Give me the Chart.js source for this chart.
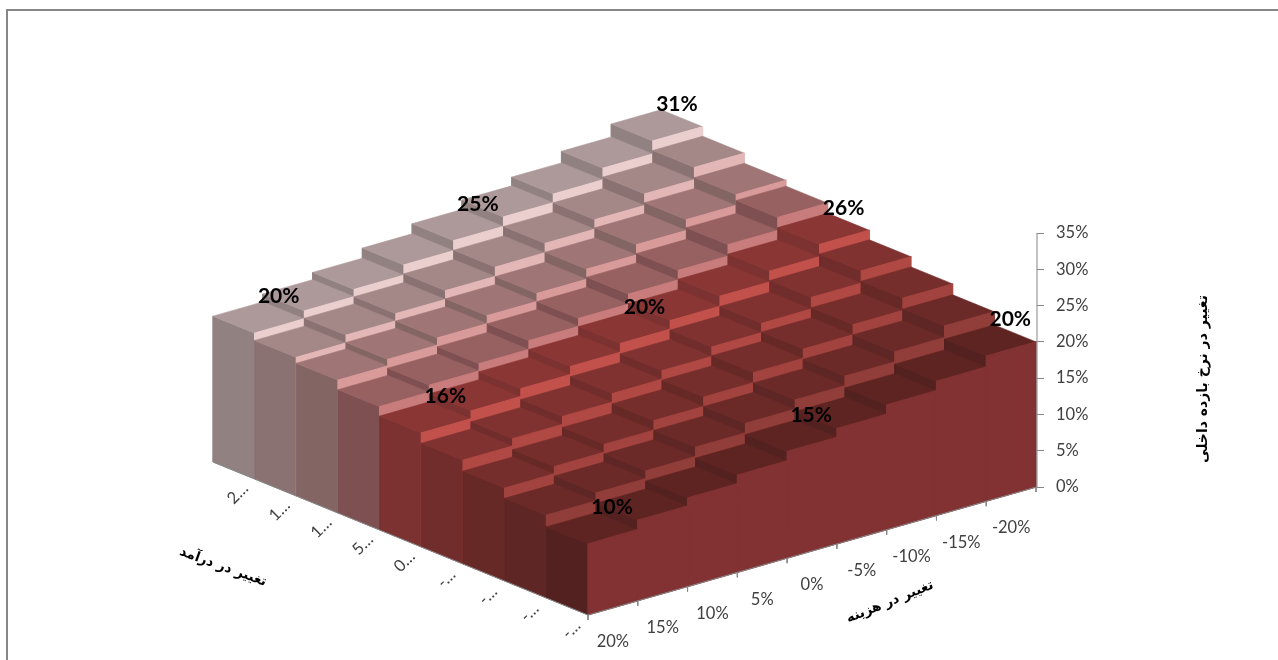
<!DOCTYPE html>
<html><head><meta charset="utf-8">
<style>html,body{margin:0;padding:0;background:#fff}#w{position:absolute;left:0;top:0;width:1278px;height:660px}</style>
<script src="https://cdn.jsdelivr.net/npm/chart.js@4"></script>
</head><body><div id="w"><canvas id="c" width="1278" height="660"></canvas></div>
<script>
// Data: rows run from revenue -20% (front) to +20% (back), columns from cost +20% (front) to -20% (right)
const revenueLabels = ['-…','-…','-…','-…','0…','5…','1…','1…','2…'];
const costLabels = ['20%','15%','10%','5%','0%','-5%','-10%','-15%','-20%'];
const yTicks = [0,5,10,15,20,25,30,35];
const rowM20 = [9.8,11.1,12.2,13.4,14.7,15.9,17.2,18.5,20.0];
const rowM15 = [11.4,12.5,13.6,14.9,16.2,17.5,18.8,20.2,21.8];
const rowM10 = [12.8,13.8,14.9,16.2,17.5,18.9,20.2,21.6,23.3];
const rowM5  = [14.3,15.3,16.4,17.6,18.8,20.1,21.4,23.0,24.7];
const row0   = [15.7,16.8,17.9,19.0,20.2,21.4,22.8,24.3,26.0];
const rowP5  = [17.0,18.0,19.0,20.2,21.3,22.7,24.0,25.6,27.4];
const rowP10 = [18.3,19.2,20.2,21.3,22.4,23.8,25.2,26.7,28.2];
const rowP15 = [19.1,20.2,21.2,22.4,23.7,25.0,26.3,27.9,29.6];
const rowP20 = [20.1,21.2,22.2,23.6,25.0,26.3,27.5,29.1,30.9];
const rows = [rowM20,rowM15,rowM10,rowM5,row0,rowP5,rowP10,rowP15,rowP20];
// labelled cells: [row index, column index, text]
const valueLabels = [[8,0,'20%'],[8,4,'25%'],[8,8,'31%'],[4,0,'16%'],[4,4,'20%'],[4,8,'26%'],[0,0,'10%'],[0,4,'15%'],[0,8,'20%']];

// Per-series colours (front to back)
const topCol   = ['#5E2422','#6B2A28','#762E2C','#7F3230','#8A3634','#986161','#9F7575','#A48888','#AD9999'];
const sideCol  = ['#532220','#5E2624','#662926','#712D2B','#7B3230','#7F5052','#836664','#8A7272','#918181'];
const frontCol = ['#823232','#913D39','#A2433F','#B04843','#C2514C','#C97C7C','#D99A9A','#E4B7B7','#EBCFCF'];

// Oblique view of the 3D box, expressed in scale units (x: pixels along the hidden axis, y: percent)
const V = {ox:588, cx:49.78, rx:-41.67, pxPerPct:254/35, floorRise:{c:14.22, r:17, o:128}};
const yMin = -173/V.pxPerPct, yMax = 487/V.pxPerPct;
function project(c,r,v){
  return {x:V.ox + V.cx*c + V.rx*r,
          y:v + (V.floorRise.c*c + V.floorRise.r*r - V.floorRise.o)/V.pxPerPct};
}
function poly(pts,color,w){
  return {type:'scatter',showLine:true,data:[...pts,pts[0]],fill:'shape',backgroundColor:color,borderColor:color,
          borderWidth:w===undefined?0.6:w,pointRadius:0,tension:0,clip:false};
}
function seg(a,b){
  return {type:'scatter',showLine:true,data:[a,b],fill:false,borderColor:'#868686',borderWidth:1,pointRadius:0,clip:false};
}
const boxes=[];
for(let ri=rows.length-1;ri>=0;ri--){
  for(let ci=rows[ri].length-1;ci>=0;ci--){
    const v=rows[ri][ci];
    boxes.push(poly([project(ci,ri,0),project(ci,ri,v),project(ci,ri+1,v),project(ci,ri+1,0)],sideCol[ri]));
    boxes.push(poly([project(ci,ri,v),project(ci+1,ri,v),project(ci+1,ri+1,v),project(ci,ri+1,v)],topCol[ri]));
  }
  for(let ci=rows[ri].length-1;ci>=0;ci--){
    const v=rows[ri][ci];
    boxes.push(poly([project(ci,ri,0),project(ci,ri,v),project(ci+1,ri,v),project(ci+1,ri,0)],frontCol[ri],1.2));
  }
}
const TICK = 5/V.pxPerPct;
const axisLines=[seg(project(0,9,0),project(0,0,0)),seg(project(0,0,0),project(9,0,0)),seg({x:1037,y:0},{x:1037,y:35})];
for(let c=0;c<=9;c++){const p=project(c,0,0);axisLines.push(seg(p,{x:p.x,y:p.y-TICK}));}
// Chart.js paints the last dataset first, so reverse for back-to-front painting
const datasets=[...axisLines,...boxes.reverse()];

const textPlugin={id:'text3d',
  beforeDraw(ch){
    const g=ch.ctx;g.save();g.fillStyle='#868686';
    g.fillRect(6,9,1272,2);g.fillRect(6,9,2,651);g.restore();
  },
  afterDraw(ch){
    const g=ch.ctx,X=ch.scales.x,Y=ch.scales.y;
    const px=p=>({x:X.getPixelForValue(p.x),y:Y.getPixelForValue(p.y)});
    const put=(t,x,y,rot,font,col)=>{g.save();g.translate(x,y);g.rotate(rot*Math.PI/180);g.font=font;g.fillStyle=col;
      g.textAlign='center';g.textBaseline='middle';g.fillText(t,0,0);g.restore();};
    const tick='16.5px Lato',grey='#404040';
    revenueLabels.forEach((t,ri)=>{const p=px(project(0,ri+.5,0));put(t,p.x+4,p.y+23,-45,tick,grey);});
    costLabels.forEach((t,ci)=>{const p=px(project(ci+.5,0,0));put(t,p.x,p.y+34,0,tick,grey);});
    valueLabels.forEach(([ri,ci,t])=>{const p=px(project(ci+.5,ri+.5,rows[ri][ci]));put(t,p.x+20,p.y-21,0,'bold 21px Lato','#000');});
    const ar='bold 13.5px "DejaVu Sans"';
    put('تغییر در درآمد',223,567,20,ar,'#000');
    put('تغییر در هزینه',890,602,-22,ar,'#000');
    put('تغییر در نرخ بازده داخلی',1203,379,-90,'bold 14px "DejaVu Sans"','#000');
  }
};
new Chart(document.getElementById('c'),{
  type:'scatter',
  data:{datasets},
  plugins:[textPlugin],
  options:{
    responsive:false,animation:false,
    layout:{padding:0},
    plugins:{legend:{display:false},tooltip:{enabled:false},title:{display:false}},
    scales:{
      x:{type:'linear',display:false,min:0,max:1037},
      y:{type:'linear',position:'right',min:yMin,max:yMax,
         afterFit(s){s.width=241;s.paddingTop=0;s.paddingBottom=0;},
         afterBuildTicks(s){s.ticks=yTicks.map(v=>({value:v}));},
         grid:{drawOnChartArea:false,tickLength:7,color:'#868686',lineWidth:1},
         border:{display:false},
         ticks:{padding:12,color:'#404040',font:{family:'Lato',size:16.5},callback:v=>v+'%'}}
    }
  }
});
</script></body></html>
